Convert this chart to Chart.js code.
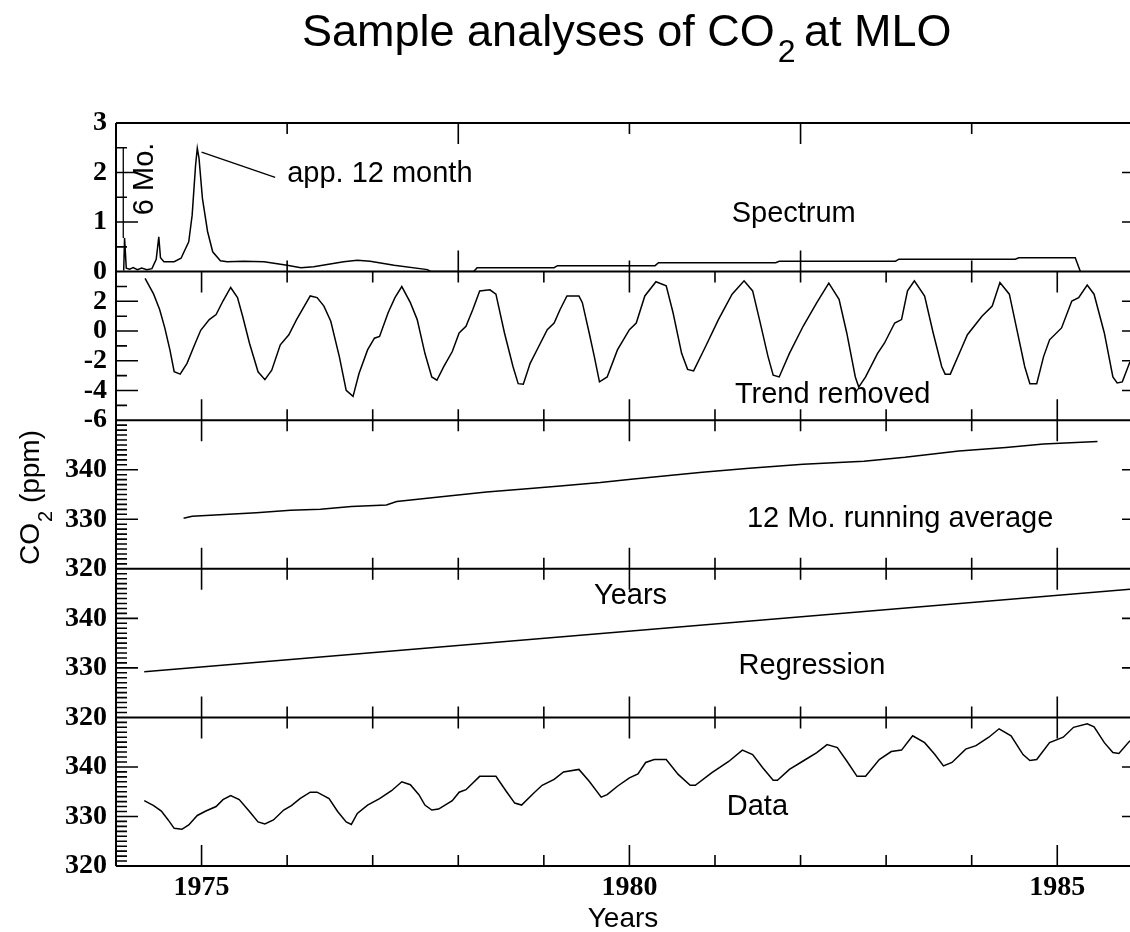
<!DOCTYPE html>
<html lang="en">
<head>
<meta charset="UTF-8">
<title>Sample analyses of CO2 at MLO</title>
<style>
  html, body { margin: 0; padding: 0; background: #fff; overflow: hidden; }
  #chart { display: block; }
</style>
</head>
<body>
<canvas id="chart" width="1130" height="932"></canvas>
<script src="https://cdn.jsdelivr.net/npm/chart.js@4.4.1/dist/chart.umd.min.js"></script>
<script>
// values, x = decimal year
const xTickYears = [1975, 1980, 1985];
const specTickLabels = [0, 1, 2, 3];
const trendTickLabels = [-6, -4, -2, 0, 2];
const ppmTickLabels = [320, 330, 340];
const freqTicks = [1976, 1978, 1980, 1982, 1984];
const freqMajor = [1978, 1982];

const spectrum = [
  [1974.09, 0.02], [1974.10, 0.68], [1974.12, 0.07], [1974.16, 0.05], [1974.20, 0.08], [1974.25, 0.04],
  [1974.30, 0.07], [1974.36, 0.04], [1974.42, 0.06], [1974.47, 0.25], [1974.50, 0.70], [1974.52, 0.28],
  [1974.56, 0.20], [1974.68, 0.20], [1974.76, 0.27], [1974.85, 0.60], [1974.89, 1.14], [1974.93, 2.15],
  [1974.95, 2.49], [1974.97, 2.29], [1975.01, 1.48], [1975.07, 0.81], [1975.13, 0.40], [1975.22, 0.22],
  [1975.30, 0.20], [1975.49, 0.21], [1975.73, 0.20], [1976.00, 0.13], [1976.16, 0.08], [1976.31, 0.10],
  [1976.66, 0.20], [1976.82, 0.23], [1976.97, 0.21], [1977.25, 0.13], [1977.64, 0.04], [1977.68, 0.0],
  [1978.18, 0.0], [1978.22, 0.08], [1979.12, 0.08], [1979.16, 0.12], [1980.30, 0.12], [1980.34, 0.18],
  [1981.71, 0.18], [1981.75, 0.21], [1983.11, 0.21], [1983.15, 0.25], [1984.51, 0.25], [1984.55, 0.28],
  [1985.21, 0.28], [1985.27, 0.0]
];

const trendRemoved = [
  [1974.34, 3.54], [1974.44, 2.48], [1974.51, 1.45], [1974.57, 0.21], [1974.63, -1.27], [1974.68, -2.74],
  [1974.75, -2.9], [1974.83, -2.17], [1974.91, -1.04], [1974.99, 0.05], [1975.09, 0.77], [1975.17, 1.11],
  [1975.25, 2.02], [1975.34, 2.93], [1975.42, 2.25], [1975.48, 1.0], [1975.56, -0.82], [1975.66, -2.74],
  [1975.74, -3.27], [1975.82, -2.63], [1975.92, -0.93], [1976.02, -0.25], [1976.11, 0.77], [1976.27, 2.36],
  [1976.35, 2.25], [1976.43, 1.68], [1976.51, 0.66], [1976.61, -1.72], [1976.69, -3.99], [1976.77, -4.4],
  [1976.84, -2.86], [1976.94, -1.27], [1977.02, -0.48], [1977.08, -0.36], [1977.18, 1.23], [1977.26, 2.25],
  [1977.34, 2.99], [1977.44, 1.91], [1977.52, 0.77], [1977.61, -1.5], [1977.69, -3.09], [1977.75, -3.31],
  [1977.83, -2.4], [1977.93, -1.38], [1978.01, -0.13], [1978.09, 0.32], [1978.17, 1.45], [1978.25, 2.7],
  [1978.37, 2.77], [1978.44, 2.48], [1978.54, -0.13], [1978.64, -2.4], [1978.70, -3.54], [1978.76, -3.58],
  [1978.84, -2.17], [1978.94, -1.04], [1979.04, 0.09], [1979.12, 0.54], [1979.19, 1.45], [1979.27, 2.36],
  [1979.41, 2.36], [1979.45, 1.91], [1979.53, -0.13], [1979.59, -1.72], [1979.65, -3.42], [1979.74, -3.09],
  [1979.86, -1.27], [1980.00, 0.09], [1980.08, 0.54], [1980.18, 2.36], [1980.31, 3.32], [1980.43, 3.04],
  [1980.51, 1.23], [1980.61, -1.5], [1980.68, -2.58], [1980.75, -2.68], [1980.89, -1.04], [1981.04, 0.77],
  [1981.20, 2.48], [1981.34, 3.38], [1981.44, 2.7], [1981.52, 0.77], [1981.62, -1.72], [1981.68, -2.97],
  [1981.75, -3.09], [1981.87, -1.5], [1982.03, 0.32], [1982.19, 1.91], [1982.33, 3.22], [1982.45, 2.13],
  [1982.54, -0.13], [1982.64, -3.09], [1982.68, -3.77], [1982.76, -3.09], [1982.90, -1.5], [1982.98, -0.82],
  [1983.10, 0.54], [1983.18, 0.77], [1983.25, 2.7], [1983.33, 3.38], [1983.45, 2.36], [1983.55, -0.13],
  [1983.65, -2.4], [1983.69, -2.9], [1983.75, -2.9], [1983.89, -1.04], [1983.95, -0.25], [1984.12, 1.0],
  [1984.24, 1.68], [1984.33, 3.27], [1984.44, 2.48], [1984.52, 0.32], [1984.62, -2.4], [1984.68, -3.54],
  [1984.76, -3.54], [1984.84, -1.72], [1984.91, -0.59], [1985.05, 0.21], [1985.17, 2.02], [1985.25, 2.25],
  [1985.35, 3.09], [1985.43, 2.48], [1985.55, -0.13], [1985.65, -3.09], [1985.70, -3.49], [1985.76, -3.42],
  [1985.85, -2.06], [1985.92, -1.3]
];

const runningAverage = [
  [1974.79, 330.2], [1974.89, 330.6], [1975.64, 331.3], [1976.04, 331.8], [1976.39, 332.0], [1976.75, 332.6],
  [1977.16, 332.9], [1977.28, 333.6], [1977.83, 334.6], [1978.33, 335.5], [1978.84, 336.2], [1979.19, 336.7],
  [1979.66, 337.4], [1980.02, 338.1], [1980.85, 339.5], [1981.40, 340.3], [1982.03, 341.1], [1982.74, 341.7],
  [1983.22, 342.5], [1983.85, 343.8], [1984.40, 344.5], [1984.84, 345.2], [1985.47, 345.7]
];

const regression = [[1974.33, 329.2], [1986.0, 346.1]];

const co2Data = [
  [1974.33, 333.2], [1974.44, 332.2], [1974.53, 331.1], [1974.61, 329.3], [1974.68, 327.6], [1974.77, 327.4],
  [1974.85, 328.3], [1974.95, 330.2], [1975.05, 331.1], [1975.17, 332.0], [1975.25, 333.4], [1975.34, 334.2],
  [1975.44, 333.4], [1975.56, 331.0], [1975.66, 328.9], [1975.74, 328.5], [1975.84, 329.3], [1975.96, 331.3],
  [1976.05, 332.2], [1976.15, 333.6], [1976.27, 334.9], [1976.35, 334.9], [1976.49, 333.6], [1976.59, 331.0],
  [1976.69, 328.9], [1976.75, 328.4], [1976.82, 330.6], [1976.94, 332.3], [1977.08, 333.6], [1977.22, 335.2],
  [1977.34, 337.0], [1977.44, 336.4], [1977.54, 334.4], [1977.61, 332.3], [1977.69, 331.3], [1977.77, 331.5],
  [1977.93, 333.2], [1978.01, 334.9], [1978.09, 335.4], [1978.25, 338.1], [1978.44, 338.1], [1978.56, 335.1],
  [1978.66, 332.7], [1978.74, 332.3], [1978.88, 334.7], [1978.98, 336.3], [1979.12, 337.5], [1979.23, 339.0],
  [1979.41, 339.5], [1979.53, 337.1], [1979.67, 333.9], [1979.74, 334.4], [1979.86, 336.1], [1980.00, 337.8],
  [1980.10, 338.6], [1980.19, 340.9], [1980.29, 341.5], [1980.43, 341.5], [1980.57, 338.5], [1980.71, 336.3],
  [1980.77, 336.3], [1980.96, 338.8], [1981.16, 341.1], [1981.32, 343.4], [1981.44, 342.5], [1981.56, 339.8],
  [1981.68, 337.3], [1981.73, 337.3], [1981.87, 339.5], [1982.03, 341.2], [1982.19, 342.9], [1982.31, 344.5],
  [1982.43, 343.9], [1982.54, 341.2], [1982.66, 338.1], [1982.76, 338.1], [1982.92, 341.5], [1983.06, 343.1],
  [1983.18, 343.4], [1983.31, 346.3], [1983.45, 344.9], [1983.57, 342.5], [1983.67, 340.2], [1983.77, 340.9],
  [1983.93, 343.6], [1984.05, 344.3], [1984.20, 346.0], [1984.32, 347.7], [1984.46, 346.3], [1984.60, 342.5],
  [1984.68, 341.3], [1984.76, 341.5], [1984.91, 344.9], [1985.07, 346.0], [1985.19, 348.0], [1985.35, 348.7],
  [1985.43, 348.1], [1985.55, 344.9], [1985.65, 342.9], [1985.72, 342.7], [1985.85, 345.3]
];

// leader lines of the two spectrum notes
const leader12Month = [[1975.00, 2.41], [1975.86, 1.90]];
const leader6Month = [[1974.085, 0.68], [1974.085, 2.5]];

// ---- look ----
const SANS = '"Liberation Sans", Arial, sans-serif';
const SERIF = '"Liberation Serif", "Times New Roman", serif';

const notes = [
  { text: 'app. 12 month', axis: 'ySpec', x: 1976.00, y: 1.81 },
  { text: 'Spectrum', axis: 'ySpec', x: 1981.195, y: 1.01 },
  { text: 'Trend removed', axis: 'yTrend', x: 1981.233, y: -4.84 },
  { text: '12 Mo. running average', axis: 'yAvg', x: 1981.374, y: 328.52 },
  { text: 'Years', axis: 'yReg', x: 1979.586, y: 342.81 },
  { text: 'Regression', axis: 'yReg', x: 1981.276, y: 328.82 },
  { text: 'Data', axis: 'yData', x: 1981.138, y: 330.2 },
  { text: '6 Mo.', axis: 'ySpec', x: 1974.432, y: 1.14, rotate: true }
];

// inward tick marks on the left of each panel
const panelTicks = {
  ySpec:  { step: 0.5, major: 2 },
  yTrend: { step: 1, major: 2 },
  yAvg:   { step: 1, major: 10 },
  yReg:   { step: 1, major: 10 },
  yData:  { step: 1, major: 10 }
};
const MAJOR = 21, MINOR = 11;

const pts = arr => arr.map(p => ({ x: p[0], y: p[1] }));

function series(data, axis, width) {
  return {
    data: pts(data), yAxisID: axis,
    borderColor: '#000', borderWidth: width || 1.5,
    pointRadius: 0, tension: 0, fill: false
  };
}

function yAxis(min, max, labels) {
  return {
    type: 'linear', position: 'left', stack: 'panels', stackWeight: 1,
    min: min, max: max,
    grid: { display: false, drawTicks: false },
    border: { display: false },
    afterBuildTicks: s => { s.ticks = labels.map(v => ({ value: v })); },
    afterFit: s => { s.width = 116; },
    ticks: {
      autoSkip: false, padding: 9, color: '#000',
      font: { family: SERIF, size: 28, weight: 'bold' },
      callback: v => String(v)
    }
  };
}

const framePlugin = {
  id: 'frame',
  afterDatasetsDraw(chart) {
    const ctx = chart.ctx, xs = chart.scales.x, a = chart.chartArea;
    const seg = (x1, y1, x2, y2) => { ctx.moveTo(x1, y1); ctx.lineTo(x2, y2); };
    ctx.save();
    ctx.strokeStyle = '#000';

    // frame: left axis and panel borders
    ctx.lineWidth = 2;
    ctx.beginPath();
    seg(a.left, a.top, a.left, a.bottom);
    Object.keys(panelTicks).forEach(id => {
      const s = chart.scales[id];
      seg(a.left, s.top, a.right, s.top);
      seg(a.left, s.bottom, a.right, s.bottom);
    });
    ctx.stroke();

    ctx.lineWidth = 1.6;
    ctx.beginPath();
    Object.keys(panelTicks).forEach(id => {
      const s = chart.scales[id];
      // top / bottom ticks along x
      let xt;
      if (id === 'ySpec') {
        xt = freqTicks.map(v => ({ v: v, major: freqMajor.includes(v) }));
      } else {
        xt = [];
        for (let yr = 1975; yr <= 1985; yr++) xt.push({ v: yr, major: yr % 5 === 0 });
      }
      xt.forEach(t => {
        const px = xs.getPixelForValue(t.v);
        const len = t.major ? MAJOR : MINOR;
        seg(px, s.top, px, s.top + len);
        seg(px, s.bottom, px, s.bottom - len);
      });
      // left / right ticks along y
      const cfg = panelTicks[id];
      const n = Math.round((s.max - s.min) / cfg.step);
      for (let i = 1; i < n; i++) {
        const v = s.min + i * cfg.step;
        const py = s.getPixelForValue(v);
        const major = i % cfg.major === 0;
        seg(a.left, py, a.left + (major ? MAJOR + 1 : MINOR), py);
        if (major) seg(a.right - 8, py, a.right, py);
      }
    });
    ctx.stroke();

    // notes inside the panels
    ctx.fillStyle = '#000';
    ctx.font = '29px ' + SANS;
    ctx.textBaseline = 'alphabetic';
    ctx.textAlign = 'left';
    notes.forEach(n => {
      const px = xs.getPixelForValue(n.x);
      const py = chart.scales[n.axis].getPixelForValue(n.y);
      if (n.rotate) {
        ctx.save();
        ctx.translate(px, py);
        ctx.rotate(-Math.PI / 2);
        ctx.fillText(n.text, 0, 0);
        ctx.restore();
      } else {
        ctx.fillText(n.text, px, py);
      }
    });
    ctx.restore();
  },
  afterDraw(chart) {
    const ctx = chart.ctx;
    ctx.save();
    ctx.fillStyle = '#000';
    ctx.textBaseline = 'alphabetic';
    ctx.textAlign = 'left';

    // main title with subscript
    let x = 302;
    ctx.font = '45px ' + SANS;
    ctx.fillText('Sample analyses of CO', x, 46);
    x += ctx.measureText('Sample analyses of CO').width + 3;
    ctx.font = '32px ' + SANS;
    ctx.fillText('2', x, 62);
    x += ctx.measureText('2').width - 4;
    ctx.font = '45px ' + SANS;
    ctx.fillText(' at MLO', x, 46);

    // y axis title, rotated
    ctx.translate(39, 565);
    ctx.rotate(-Math.PI / 2);
    ctx.font = '28px ' + SANS;
    ctx.fillText('CO', 0, 0);
    let w = ctx.measureText('CO').width + 1;
    ctx.font = '20px ' + SANS;
    ctx.fillText('2', w, 13);
    w += ctx.measureText('2').width;
    ctx.font = '28px ' + SANS;
    ctx.fillText(' (ppm)', w, 0);
    ctx.restore();
  }
};

new Chart(document.getElementById('chart'), {
  type: 'line',
  data: {
    datasets: [
      series(co2Data, 'yData'),
      series(regression, 'yReg'),
      series(runningAverage, 'yAvg'),
      series(trendRemoved, 'yTrend'),
      series(spectrum, 'ySpec'),
      series(leader12Month, 'ySpec', 1.3),
      series(leader6Month, 'ySpec', 1.3)
    ]
  },
  options: {
    responsive: false,
    animation: false,
    devicePixelRatio: 1,
    layout: { autoPadding: false, padding: { top: 123, left: 0, right: 0, bottom: 0 } },
    plugins: { legend: { display: false }, tooltip: { enabled: false }, title: { display: false } },
    scales: {
      x: {
        type: 'linear', position: 'bottom', min: 1974.0, max: 1985.85,
        grid: { display: false, drawTicks: false },
        border: { display: false },
        afterBuildTicks: s => { s.ticks = xTickYears.map(v => ({ value: v })); },
        afterFit: s => { s.height = 66; s.paddingLeft = 0; s.paddingRight = 0; },
        ticks: {
          autoSkip: false, maxRotation: 0, padding: 5, color: '#000',
          font: { family: SERIF, size: 28, weight: 'bold', lineHeight: 1.2 },
          callback: v => String(v)
        },
        title: {
          display: true, text: 'Years', color: '#000',
          font: { family: SANS, size: 28, lineHeight: 0.9 },
          padding: { top: 0, bottom: 0 }
        }
      },
      // first defined sits at the bottom of the stack
      yData: yAxis(320, 350, ppmTickLabels),
      yReg: yAxis(320, 350, ppmTickLabels),
      yAvg: yAxis(320, 350, ppmTickLabels),
      yTrend: yAxis(-6, 4, trendTickLabels),
      ySpec: yAxis(0, 3, specTickLabels)
    }
  },
  plugins: [framePlugin]
});
</script>
</body>
</html>
